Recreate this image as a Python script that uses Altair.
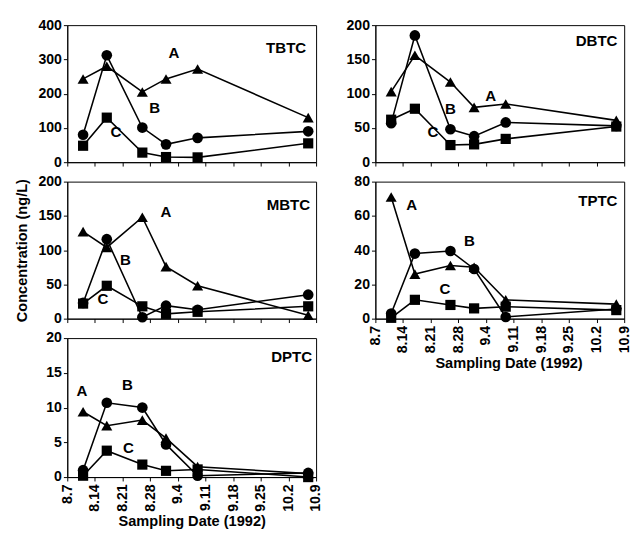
import altair as alt
import pandas as pd

# ---------------- data ----------------
tick_labels = ["8.7", "8.14", "8.21", "8.28", "9.4", "9.11", "9.18", "9.25", "10.2", "10.9"]
tick_days = [0, 7, 14, 21, 28, 35, 42, 49, 56, 63]
sample_dates = ["8.11", "8.17", "8.26", "9.1", "9.9", "10.7"]
sample_days = [4, 10, 19, 25, 33, 61]
series_names = ["A", "B", "C"]

tbtc_A = [243, 280, 205, 243, 272, 130]
tbtc_B = [80, 312, 101, 52, 71, 90]
tbtc_C = [48, 130, 28, 15, 14, 55]

dbtc_A = [103, 156, 117, 80, 85, 61]
dbtc_B = [57, 185, 48, 38, 58, 53]
dbtc_C = [62, 78, 25, 26, 34, 52]

mbtc_A = [127, 104, 148, 76, 48, 5]
mbtc_B = [23, 116, 2, 19, 13, 35]
mbtc_C = [22, 48, 18, 7, 10, 18]

tptc_A = [71, 26, 31, 30, 11, 8.5]
tptc_B = [3, 38, 39.5, 29, 1, 5.6]
tptc_C = [0.5, 11, 8, 6, 7, 5]

dptc_A = [9.4, 7.4, 8.2, 5.6, 1.5, 0.5]
dptc_B = [1.0, 10.7, 10.0, 4.7, 0.2, 0.6]
dptc_C = [0.2, 3.8, 1.8, 0.9, 1.1, 0.0]

# annotation anchors (day, concentration)
tbtc_labels = [(27, 318), (22.1, 159), (12.3, 89)]
dbtc_labels = [(29.2, 96), (19, 77), (14.6, 44)]
mbtc_labels = [(25, 156), (14.7, 85), (9.0, 28)]
tptc_labels = [(9.2, 66), (23.8, 45), (17.6, 17.5)]
dptc_labels = [(3.7, 12.3), (15.2, 13.2), (15.5, 4.1)]

tbtc_name = (60.5, 333)
dbtc_name = (61.3, 176)
mbtc_name = (61.5, 166)
tptc_name = (61.3, 68.7)
dptc_name = (62.0, 17.2)

FONT = "Liberation Sans"
label_expr = "[" + ",".join("'%s'" % t for t in tick_labels) + "][indexof([" + \
    ",".join(str(d) for d in tick_days) + "], datum.value)]"


def make_panel(name, values, ymax, ystep, label_pos, name_pos, show_x,
               ytitle, extent, w, h, title_x=None):
    rows = []
    for s, vals in zip(series_names, values):
        for d, v in zip(sample_days, vals):
            rows.append({"day": d, "value": v, "series": s})
    df = pd.DataFrame(rows)
    lab = pd.DataFrame({"series": series_names,
                        "day": [p[0] for p in label_pos],
                        "value": [p[1] for p in label_pos]})
    nm = pd.DataFrame({"name": [name], "day": [name_pos[0]], "value": [name_pos[1]]})

    if show_x:
        kw = dict(values=tick_days, labels=True, labelExpr=label_expr,
                  labelAngle=270, labelPadding=3, titlePadding=3,
                  tickSize=4, grid=False)
        if title_x is not None:
            kw["titleX"] = title_x
        xaxis = alt.Axis(**kw)
        x = alt.X("day:Q", scale=alt.Scale(domain=[0, 63], nice=False, zero=False),
                  axis=xaxis, title="Sampling Date (1992)")
    else:
        xaxis = alt.Axis(values=tick_days, labels=False, tickSize=4, grid=False)
        x = alt.X("day:Q", scale=alt.Scale(domain=[0, 63], nice=False, zero=False),
                  axis=xaxis, title=None)

    yaxis = alt.Axis(values=list(range(0, ymax + 1, ystep)), minExtent=extent,
                     maxExtent=extent, tickSize=4, labelPadding=2, grid=False,
                     titlePadding=9)
    y = alt.Y("value:Q", scale=alt.Scale(domain=[0, ymax], nice=False),
              axis=yaxis, title=ytitle if ytitle else None)

    lines = alt.Chart(df).mark_line(color="black", strokeWidth=1.6).encode(
        x=x, y=y, detail="series:N")
    points = alt.Chart(df).mark_point(filled=True, opacity=1, color="black").encode(
        x=x, y=y,
        shape=alt.Shape("series:N", scale=alt.Scale(domain=series_names,
                        range=["triangle-up", "circle", "square"]), legend=None),
        size=alt.Size("series:N", scale=alt.Scale(domain=series_names,
                      range=[130, 110, 95]), legend=None))
    labels = alt.Chart(lab).mark_text(font=FONT, fontSize=15.5, fontWeight="bold",
                                      color="black").encode(x=x, y=y, text="series:N")
    names = alt.Chart(nm).mark_text(font=FONT, fontSize=15.5, fontWeight="bold",
                                    color="black", align="right").encode(
        x=x, y=y, text="name:N")
    return alt.layer(lines, points, labels, names).properties(width=w, height=h)


W, H = 256, 141
tbtc = make_panel("TBTC", [tbtc_A, tbtc_B, tbtc_C], 400, 100, tbtc_labels, tbtc_name,
                  False, None, 55, W, H)
mbtc = make_panel("MBTC", [mbtc_A, mbtc_B, mbtc_C], 200, 50, mbtc_labels, mbtc_name,
                  False, "Concentration (ng/L)", 30, W, H)
dptc = make_panel("DPTC", [dptc_A, dptc_B, dptc_C], 20, 5, dptc_labels, dptc_name,
                  True, None, 55, W, 143)
dbtc = make_panel("DBTC", [dbtc_A, dbtc_B, dbtc_C], 200, 50, dbtc_labels, dbtc_name,
                  False, None, 30, W, H)
tptc = make_panel("TPTC", [tptc_A, tptc_B, tptc_C], 80, 20, tptc_labels, tptc_name,
                  True, None, 30, W, H, title_x=137)

left = alt.vconcat(tbtc, mbtc, dptc, spacing=4)
right = alt.vconcat(dbtc, tptc, spacing=4)

chart = alt.hconcat(left, right, spacing=23).properties(
    padding={"left": 5, "top": 1, "right": 0, "bottom": 0}
).configure_view(stroke="black", strokeWidth=1).configure_axis(
    labelFont=FONT, labelFontSize=14.5, labelFontWeight="bold", labelColor="black",
    titleFont=FONT, titleFontSize=15, titleFontWeight="bold", titleColor="black",
    domainColor="black", tickColor="black", grid=False
)

chart.save("out.html", embed_options={"renderer": "svg", "actions": False})
